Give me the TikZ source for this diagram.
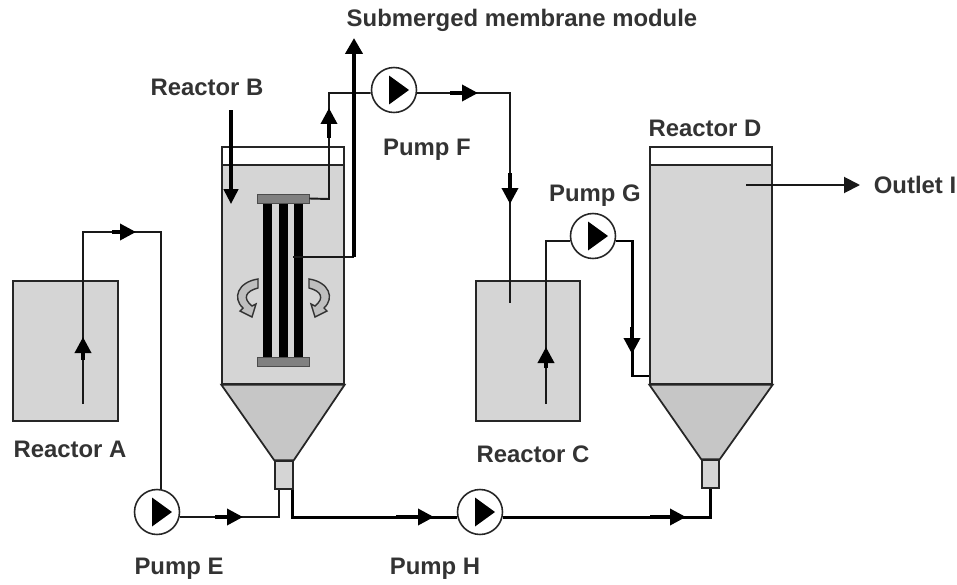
\documentclass[tikz,border=0pt]{standalone}
\usepackage{fontspec}
\setmainfont{Liberation Sans}
\usepackage{xcolor}
\usetikzlibrary{arrows.meta}
\definecolor{liquid}{HTML}{D5D5D5}
\definecolor{sludge}{HTML}{C6C6C6}
\definecolor{platecol}{HTML}{808080}
\tikzset{
tank/.style={draw=black!85, line width=0.8pt, fill=liquid, inner sep=0pt},
headspace/.style={draw=black!85, line width=0.8pt, fill=white, inner sep=0pt},
stub/.style={draw=black!85, line width=0.9pt, fill=liquid, minimum width=0.36cm, minimum height=0.56cm, inner sep=0pt},
plate/.style={draw=black!70, line width=0.5pt, fill=platecol, minimum width=1.04cm, minimum height=0.18cm, inner sep=0pt},
fibre/.style={fill=black, minimum width=0.18cm, minimum height=3.08cm, inner sep=0pt},
pump/.style={circle, draw=black!85, line width=0.9pt, fill=white, minimum size=0.9cm, inner sep=0pt,
path picture={\fill[black] ([xshift=-0.1cm,yshift=0.29cm]path picture bounding box.center) -- ([xshift=0.3cm]path picture bounding box.center) -- ([xshift=-0.1cm,yshift=-0.29cm]path picture bounding box.center) -- cycle;}},
lab/.style={font=\bfseries\fontsize{13.6}{15}\selectfont, text=black!80, inner sep=0pt},
pipe/.style={line width=1.1pt, black!90},
heavypipe/.style={line width=1.7pt, black},
flowtip/.style={line width=2pt, -{Triangle[length=3.2mm,width=3.2mm]}},
swirl/.style={draw=black!80, line width=0.8pt, fill=black!25}
}
\begin{document}
\begin{tikzpicture}[x=0.02cm,y=-0.02cm]
\useasboundingbox (0,0) rectangle (957,585);
% reactors A and C
\node[tank, minimum width=2.1cm, minimum height=2.8cm] (ra) at (65.5,351) {};
\node[tank, minimum width=2.08cm, minimum height=2.8cm] (rc) at (528,351) {};
% reactor B
\node[headspace, minimum width=2.44cm, minimum height=0.36cm] (bh) at (283,156) {};
\node[tank, minimum width=2.44cm, minimum height=4.38cm] (bb) at (283,274.5) {};
\node[stub] (bs) at (284,475) {};
\draw[tank, fill=sludge, line width=1pt] (bb.south west) -- (bs.north west) -- (bs.north east) -- (bb.south east) -- cycle;
% reactor D
\node[headspace, minimum width=2.44cm, minimum height=0.36cm] (dh) at (711,156) {};
\node[tank, minimum width=2.44cm, minimum height=4.38cm] (db) at (711,274.5) {};
\node[stub, minimum width=0.34cm] (ds) at (710.5,474) {};
\draw[tank, fill=sludge, line width=1pt] (db.south west) -- (ds.north west) -- (ds.north east) -- (db.south east) -- cycle;
% membrane module
\foreach \x/\n in {267.5/fa,283.5/fb,298.5/fc}
\node[fibre] (\n) at (\x,280) {};
\node[plate] (pt) at (283,198.5) {};
\node[plate] (pb) at (283,361.5) {};
% mixing
\draw[swirl] (258,279) .. controls (238,282) and (232,298) .. (243,308) -- (240,311) -- (252,317) -- (256,304) -- (252,306) .. controls (242,298) and (246,291) .. (258,288) -- cycle;
\draw[swirl] (309,279) .. controls (329,282) and (335,298) .. (324,308) -- (327,311) -- (315,317) -- (311,304) -- (315,306) .. controls (325,298) and (321,291) .. (309,288) -- cycle;
% pumps
\node[pump] (pe) at (157,512) {};
\node[pump] (ph) at (480,512) {};
\node[pump] (pf) at (394,90) {};
\node[pump] (pg) at (593,236) {};
% free ends and bends
\coordinate (a0) at (83,404);
\coordinate (a1) at (83,232);
\coordinate (a2) at (161,232);
\coordinate (b0) at (231,110);
\coordinate (f0) at (329,199);
\coordinate (f1) at (329,93);
\coordinate (f2) at (510,93);
\coordinate (f3) at (510,303);
\coordinate (m0) at (293,257);
\coordinate (m1) at (354,257);
\coordinate (m2) at (354,38);
\coordinate (g0) at (546,404);
\coordinate (g1) at (546,241);
\coordinate (g2) at (632,241);
\coordinate (g3) at (632,376);
\coordinate (e1) at (279,517);
\coordinate (h0) at (292.5,517);
\coordinate (d1) at (710.5,517);
\coordinate (o0) at (746,185);
\coordinate (o1) at (860,185);
% pipes
\draw[pipe] (a0) -- (a1) -- (a2) -- (a2 |- pe.north);
\draw[pipe] (pe.east |- e1) -- (e1) -- (e1 |- bs.south);
\draw[heavypipe] (h0 |- bs.south) -- (h0) -- (ph.west |- h0);
\draw[heavypipe] (ph.east |- d1) -- (d1) -- (ds.south);
\draw[pipe] (pt.east) -- (f0) -- (f1) -- (pf.west |- f1);
\draw[pipe] (pf.east |- f2) -- (f2) -- (f3);
\draw[pipe] (g0) -- (g1) -- (pg.west |- g1);
\draw[heavypipe] (pg.east |- g2) -- (g2) -- (g3) -- (db.west |- g3);
\draw[pipe] (m0) -- (m1);
\draw[line width=2.3pt, -{Triangle[length=3.2mm,width=3.4mm]}] (m1) -- (m2);
\draw[line width=1.8pt, -{Triangle[length=3mm,width=2.9mm]}] (b0) -- (231,204);
\draw[pipe, -{Triangle[length=3.2mm,width=3.2mm]}] (o0) -- (o1);
% flow arrows
\foreach \xa/\ya/\xb/\yb in {83/360/83/337,112/232/136/232,215/517/243/517,396/517/434/517,650/517/686/517,329/138/329/108,450/93/478/93,510/173/510/204,546/368/546/347,632/327/632/354}
\draw[flowtip] (\xa,\ya) -- (\xb,\yb);
% labels
\node[lab] (tm) at (522,20) {Submerged membrane module};
\node[lab] (tb) at (207,87) {Reactor B};
\node[lab] (tf) at (427,150) {Pump F};
\node[lab] (td) at (705,128) {Reactor D};
\node[lab] (tg) at (595,196) {Pump G};
\node[lab] (to) at (915,185) {Outlet I};
\node[lab] (ta) at (70,449) {Reactor A};
\node[lab] (tc) at (533,454) {Reactor C};
\node[lab] (te) at (179,569) {Pump E};
\node[lab] (th) at (435,569) {Pump H};
\end{tikzpicture}
\end{document}
